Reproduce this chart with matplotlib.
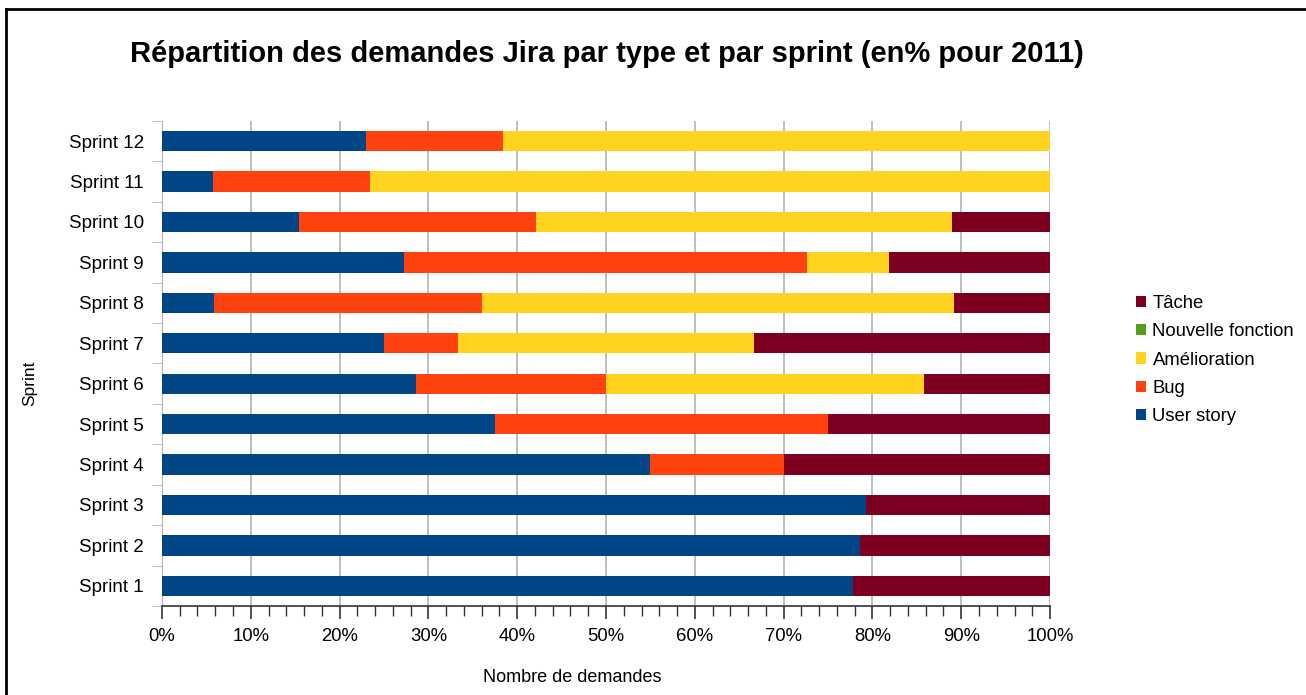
import matplotlib.pyplot as plt
import numpy as np
from matplotlib.lines import Line2D
from matplotlib.ticker import MultipleLocator, FuncFormatter

plt.rcParams['font.family'] = ['Liberation Sans', 'DejaVu Sans']

# data (% per sprint)
sprints = ['Sprint 1', 'Sprint 2', 'Sprint 3', 'Sprint 4', 'Sprint 5', 'Sprint 6',
           'Sprint 7', 'Sprint 8', 'Sprint 9', 'Sprint 10', 'Sprint 11', 'Sprint 12']
user_story = [77.8, 78.6, 79.3, 55.0, 37.5, 28.6, 25.0, 5.9, 27.2, 15.4, 5.7, 23.0]
bug = [0, 0, 0, 15.0, 37.5, 21.4, 8.3, 30.1, 45.4, 26.7, 17.7, 15.4]
amelioration = [0, 0, 0, 0, 0, 35.8, 33.4, 53.2, 9.3, 46.9, 76.6, 61.6]
nouvelle = [0] * 12
tache = [22.2, 21.4, 20.7, 30.0, 25.0, 14.2, 33.3, 10.8, 18.1, 11.0, 0, 0]

series = [('User story', user_story, '#004586'),
          ('Bug', bug, '#ff420e'),
          ('Amélioration', amelioration, '#ffd320'),
          ('Nouvelle fonction', nouvelle, '#579d1c'),
          ('Tâche', tache, '#7e0021')]

fig = plt.figure(figsize=(13.06, 6.95), dpi=100)
ax = fig.add_axes([0.124, 0.128, 0.680, 0.698])

y = np.arange(len(sprints))
left = np.zeros(len(sprints))
handles = []
for name, vals, col in series:
    vals = np.array(vals)
    b = ax.barh(y, vals, left=left, height=0.5, color=col, label=name, zorder=3)
    handles.append(b)
    left += vals

ax.set_xlim(0, 100)
ax.set_ylim(-0.5, len(sprints) - 0.5)
ax.set_yticks(y)
ax.set_yticklabels(sprints, fontsize=13.5)
ax.set_yticks(np.arange(-0.5, len(sprints), 1), minor=True)
ax.tick_params(axis='y', which='major', length=0, pad=13)
ax.tick_params(axis='y', which='minor', length=7, color='#b3b3b3', direction='out')

ax.xaxis.set_major_locator(MultipleLocator(10))
ax.xaxis.set_minor_locator(MultipleLocator(2))
ax.xaxis.set_major_formatter(FuncFormatter(lambda v, p: f'{int(v)}%'))
ax.tick_params(axis='x', which='major', length=9, width=1.2, color='#333333', labelsize=13.3, pad=7)
ax.tick_params(axis='x', which='minor', length=7, width=1, color='#333333')
ax.grid(axis='x', which='major', color='#b3b3b3', linewidth=1.2, zorder=0)

for s in ['top', 'right']:
    ax.spines[s].set_visible(False)
ax.spines['left'].set_color('#b3b3b3')
ax.spines['bottom'].set_color('#333333')
ax.spines['bottom'].set_linewidth(1.2)

fig.text(0.465, 0.922, 'Répartition des demandes Jira par type et par sprint (en% pour 2011)',
         ha='center', va='center', fontsize=21, fontweight='bold')
fig.text(0.438, 0.025, 'Nombre de demandes', ha='center', va='center', fontsize=13)
fig.text(0.023, 0.448, 'Sprint', ha='center', va='center', rotation=90, fontsize=12.5)

leg = fig.legend(handles=handles[::-1], labels=[s[0] for s in series][::-1],
                 loc='center left', bbox_to_anchor=(0.857, 0.482), frameon=False,
                 fontsize=13.3, handlelength=0.55, handleheight=0.55, handletextpad=0.35,
                 labelspacing=0.62)

fig.add_artist(Line2D([0.0046, 0.0046], [0, 0.987], color='black', linewidth=2, transform=fig.transFigure))
fig.add_artist(Line2D([0.0046, 1], [0.987, 0.987], color='black', linewidth=2, transform=fig.transFigure))

fig.savefig('out.png', dpi=100)
